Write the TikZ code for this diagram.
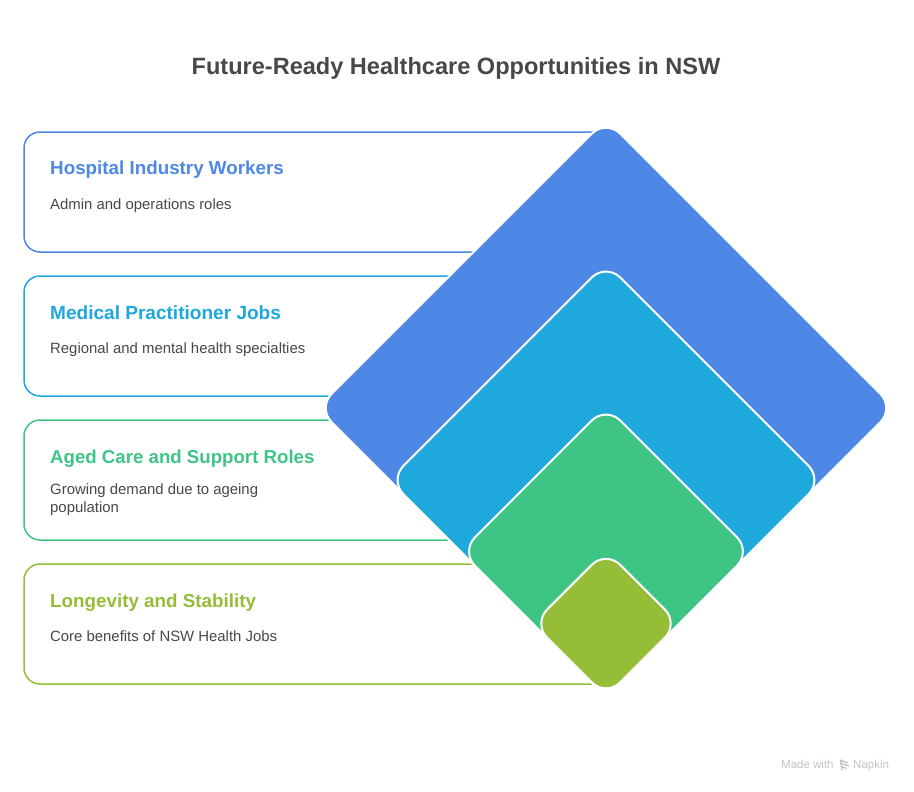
\documentclass[tikz,border=0pt]{standalone}
\usepackage{fontspec}
\setmainfont{Liberation Sans}
\definecolor{cblue}{HTML}{4E88E7}
\definecolor{ccyan}{HTML}{1EA8DB}
\definecolor{cgreen}{HTML}{3EC585}
\definecolor{colive}{HTML}{95BD38}
\definecolor{ctext}{HTML}{484848}
\definecolor{cmark}{HTML}{C4C4C4}
\tikzset{
  cardbox/.style={draw=#1,line width=1.5pt,fill=white,rounded corners=16pt},
  heading/.style={anchor=base west,inner sep=0pt,text=#1,font=\fontsize{18.8}{24}\selectfont\bfseries},
  bodytext/.style={anchor=base west,inner sep=0pt,text=ctext,font=\fontsize{14.9}{18}\selectfont},
  gem/.style={fill=#1,draw=white,line width=2pt,rounded corners=20pt},
  credit/.style={anchor=base west,inner sep=0pt,text=cmark,font=\fontsize{11.5}{13}\selectfont},
}
\newcommand{\card}[3]{\draw[cardbox=#3] (606,#1) -- (24,#1) -- (24,#2) -- (606,#2);}
\newcommand{\gemshape}[3]{\draw[gem=#3] (606,#1-#2) -- (606+#2,#1) -- (606,#1+#2) -- (606-#2,#1) -- cycle;}
\begin{document}
\begin{tikzpicture}[x=1pt,y=-1pt]
\useasboundingbox (0,0) rectangle (914,792);
\fill[white] (0,0) rectangle (914,792);
\node[anchor=base,inner sep=0pt,text=ctext,font=\fontsize{23.55}{28}\selectfont\bfseries] (title) at (456,75) {Future-Ready Healthcare Opportunities in NSW};
\card{132}{252}{cblue}
\card{276}{396}{ccyan}
\card{420}{540}{cgreen}
\card{564}{684}{colive}
\node[heading=cblue] (h1) at (50,175) {Hospital Industry Workers};
\node[bodytext] (b1) at (50,209) {Admin and operations roles};
\node[heading=ccyan,font=\fontsize{19.05}{24}\selectfont\bfseries] (h2) at (50,319) {Medical Practitioner Jobs};
\node[bodytext] (b2) at (50,353) {Regional and mental health specialties};
\node[heading=cgreen,font=\fontsize{18.65}{24}\selectfont\bfseries] (h3) at (50,463) {Aged Care and Support Roles};
\node[bodytext] (b3a) at (50,494) {Growing demand due to ageing};
\node[bodytext] (b3b) at (50,512) {population};
\node[heading=colive] (h4) at (50,607) {Longevity and Stability};
\node[bodytext] (b4) at (50,641) {Core benefits of NSW Health Jobs};
\gemshape{408}{288.5}{cblue}
\gemshape{480}{216.7}{ccyan}
\gemshape{551.5}{145.2}{cgreen}
\gemshape{623.6}{73}{colive}
\node[credit] (made) at (781,768) {Made with};
\node[credit] (napkin) at (853,768) {Napkin};
\draw[cmark,line width=1.3pt] (840,760) -- (848,763) (840,763) -- (849,766) (841,766.5) -- (846.5,768.5) (840.5,760) -- (842,770.5);
\end{tikzpicture}
\end{document}
